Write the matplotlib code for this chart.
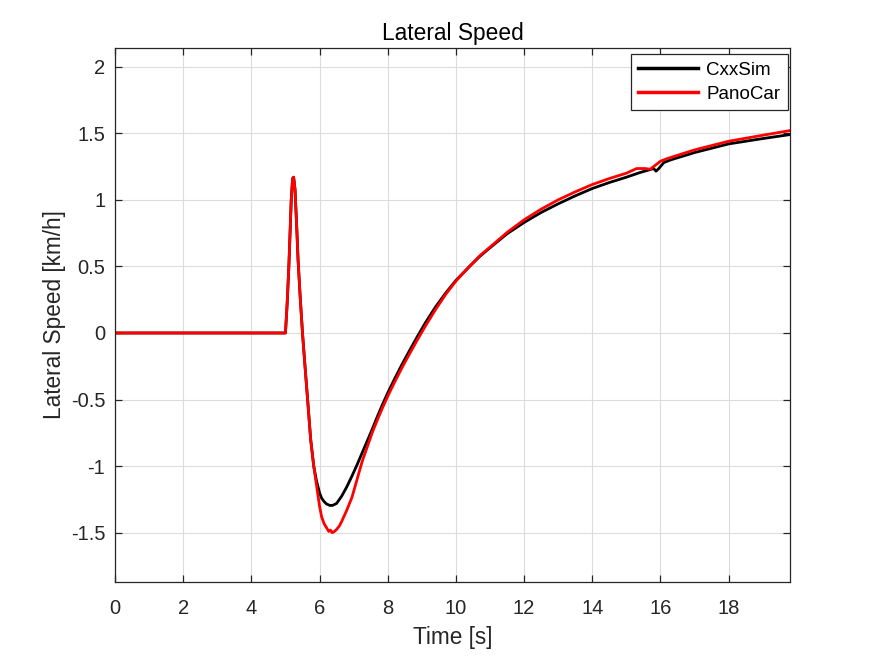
import matplotlib
matplotlib.use("Agg")
import matplotlib.pyplot as plt

# ---- data ----
t_cxx = [0, 5.0, 5.05, 5.1, 5.17, 5.21, 5.24, 5.28, 5.33, 5.37, 5.43, 5.5, 5.58, 5.65,
         5.74, 5.83, 5.91, 6.0, 6.06, 6.13, 6.2, 6.3, 6.38, 6.5, 6.65, 6.8, 6.95, 7.1,
         7.25, 7.4, 7.55, 7.7, 7.85, 8.0, 8.2, 8.4, 8.6, 8.85, 9.1, 9.4, 9.7, 10.0,
         10.4, 10.7, 11.0, 11.5, 12.0, 12.5, 13.0, 13.5, 14.0, 14.5, 15.0, 15.4, 15.8,
         15.87, 15.95, 16.1, 16.3, 17.0, 18.0, 19.0, 19.8]
v_cxx = [0, 0, 0.22, 0.5, 1.0, 1.16, 1.17, 1.08, 0.8, 0.55, 0.28, 0.0, -0.27, -0.5,
         -0.8, -1.0, -1.11, -1.2, -1.24, -1.265, -1.283, -1.295, -1.295, -1.28, -1.225,
         -1.155, -1.075, -0.99, -0.90, -0.81, -0.72, -0.625, -0.535, -0.45, -0.345,
         -0.245, -0.15, -0.035, 0.075, 0.195, 0.30, 0.395, 0.5, 0.575, 0.64, 0.745, 0.83,
         0.905, 0.97, 1.03, 1.085, 1.13, 1.17, 1.205, 1.235, 1.215, 1.235, 1.28, 1.30,
         1.355, 1.42, 1.46, 1.49]

t_pano = [0, 5.0, 5.05, 5.1, 5.17, 5.21, 5.24, 5.28, 5.33, 5.37, 5.43, 5.5, 5.58, 5.65,
          5.74, 5.83, 5.91, 6.0, 6.06, 6.13, 6.2, 6.27, 6.32, 6.37, 6.44, 6.5, 6.58,
          6.65, 6.8, 6.95, 7.1, 7.25, 7.4, 7.55, 7.7, 7.85, 8.0, 8.2, 8.4, 8.6, 8.85,
          9.1, 9.4, 9.7, 10.0, 10.4, 10.7, 11.0, 11.5, 12.0, 12.5, 13.0, 13.5, 14.0,
          14.5, 15.0, 15.3, 15.55, 15.7, 15.85, 16.0, 16.2, 17.0, 18.0, 19.0, 19.8]
v_pano = [0, 0, 0.22, 0.5, 1.0, 1.16, 1.17, 1.08, 0.8, 0.55, 0.28, 0.0, -0.27, -0.5,
          -0.8, -1.0, -1.14, -1.3, -1.38, -1.43, -1.46, -1.49, -1.48, -1.50, -1.49,
          -1.475, -1.45, -1.415, -1.33, -1.235, -1.10, -0.965, -0.855, -0.745, -0.65,
          -0.56, -0.475, -0.37, -0.27, -0.175, -0.06, 0.05, 0.175, 0.29, 0.39, 0.5,
          0.58, 0.645, 0.755, 0.85, 0.93, 1.0, 1.06, 1.115, 1.16, 1.2, 1.235, 1.235,
          1.23, 1.26, 1.29, 1.31, 1.375, 1.44, 1.485, 1.52]

x_ticks = [0, 2, 4, 6, 8, 10, 12, 14, 16, 18]
y_ticks = [-1.5, -1, -0.5, 0, 0.5, 1, 1.5, 2]
y_tick_labels = ["-1.5", "-1", "-0.5", "0", "0.5", "1", "1.5", "2"]

plt.rcParams['font.family'] = ['Liberation Sans', 'DejaVu Sans']
axc = '#262626'

fig = plt.figure(figsize=(8.75, 6.56), dpi=100)
fig.patch.set_facecolor('white')
ax = fig.add_axes([0.1314, 0.1128, 0.7715, 0.814])

ax.plot(t_cxx, v_cxx, color='black', lw=2.0, label='CxxSim')
ax.plot(t_pano, v_pano, color='#ff0000', lw=2.0, label='PanoCar')

ax.set_xlim(0, 19.8)
ax.set_ylim(-1.87, 2.14)
ax.set_xticks(x_ticks)
ax.set_yticks(y_ticks)
ax.set_yticklabels(y_tick_labels)

ax.grid(True, color='#dcdcdc', lw=0.8)
ax.set_axisbelow(True)
for s in ax.spines.values():
    s.set_color(axc)
    s.set_linewidth(0.9)
ax.tick_params(axis='both', direction='in', top=True, right=True, length=5,
               width=0.9, color=axc, labelcolor=axc, labelsize=14.5)
ax.tick_params(axis='x', pad=12)
ax.tick_params(axis='y', pad=7)

ax.set_title('Lateral Speed', fontsize=16.4, color='black', pad=6)
ax.set_xlabel('Time [s]', fontsize=16.3, color=axc, labelpad=6)
ax.set_ylabel('Lateral Speed [km/h]', fontsize=16.3, color=axc, labelpad=3.5)

leg = ax.legend(loc='upper right', bbox_to_anchor=(0.9966, 0.988), borderaxespad=0,
                fontsize=13.5, fancybox=False, framealpha=1, edgecolor=axc,
                handlelength=3.2, handletextpad=0.43, labelspacing=0.36, borderpad=0.4)
leg.get_frame().set_linewidth(0.9)
for line in leg.get_lines():
    line.set_linewidth(2.5)

fig.savefig('out.png', dpi=100, facecolor='white')
